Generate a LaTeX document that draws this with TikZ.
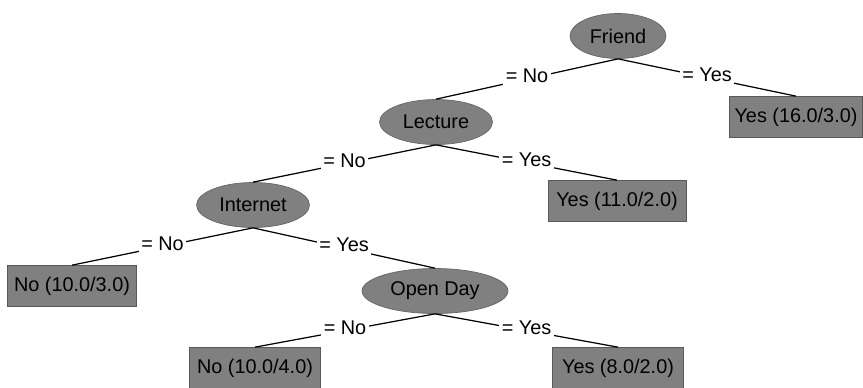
\documentclass[tikz,border=0pt]{standalone}
\usepackage{fontspec}
\setmainfont{Liberation Sans}
\usetikzlibrary{shapes.geometric}
\begin{document}
\begin{tikzpicture}[x=0.02cm,y=-0.02cm,font=\fontsize{11.3}{13}\selectfont,
    split/.style={ellipse,fill=gray,draw=gray!80!black,thin,minimum height=0.9cm,inner sep=0pt},
    leaf/.style={rectangle,fill=gray,draw=gray!70!black,thin,minimum height=0.82cm,minimum width=2.62cm,inner xsep=0.08cm},
    branch/.style={midway,fill=white,inner sep=1.5pt,yshift=0.06cm}]
        \useasboundingbox (0,0) rectangle (863,387);
        \node[split,minimum width=1.92cm] (friend) at (618,36) {Friend};
        \node[split,minimum width=2.26cm] (lecture) at (436,122) {Lecture};
        \node[split,minimum width=2.26cm] (internet) at (253,205) {Internet};
        \node[split,minimum width=2.92cm] (openday) at (435,291) {Open Day};
        \node[leaf,minimum width=2.66cm] (yes16) at (796,117) {Yes (16.0/3.0)};
        \node[leaf,minimum width=2.76cm] (yes11) at (617,201) {Yes (11.0/2.0)};
        \node[leaf,minimum width=2.58cm] (no10a) at (72,286) {No (10.0/3.0)};
        \node[leaf] (no10b) at (255,368) {No (10.0/4.0)};
        \node[leaf] (yes8) at (618,368) {Yes (8.0/2.0)};
        \begin{scope}[line width=0.7pt]
        \draw (friend.south)--(lecture.north)node[branch]{= No};
        \draw (friend.south)--(yes16.north)node[branch]{= Yes};
        \draw (lecture.south)--(internet.north)node[branch]{= No};
        \draw (lecture.south)--(yes11.north)node[branch]{= Yes};
        \draw (internet.south)--(no10a.north)node[branch]{= No};
        \draw (internet.south)--(openday.north)node[branch]{= Yes};
        \draw (openday.south)--(no10b.north)node[branch]{= No};
        \draw (openday.south)--(yes8.north)node[branch]{= Yes};
        \end{scope}
    \end{tikzpicture}
\end{document}
